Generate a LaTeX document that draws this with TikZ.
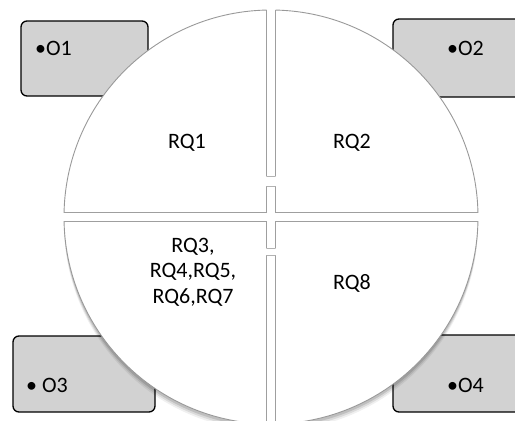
\documentclass[tikz,border=0pt]{standalone}
\usepackage{fontspec}
\setmainfont{Carlito}
\begin{document}
\begin{tikzpicture}[x=1pt,y=-1pt,line join=round,line cap=round,
	objbox/.style={draw=black,line width=1.3pt,fill=gray!35,rounded corners=6pt},
	objtxt/.style={anchor=west,inner sep=0pt,font=\fontsize{22}{26}\selectfont},
	rqtxt/.style={align=center,font=\fontsize{22}{25.5}\selectfont},
	gapline/.style={gray!75,line width=1pt}]
		\useasboundingbox (0,0) rectangle (515,421);
		% objectives, behind the disc
		\draw[objbox] (21,21) rectangle (148,96);
		\draw[objbox] (393,19) rectangle (530,97);
		\draw[objbox] (13,336) rectangle (155,412);
		\draw[objbox] (393,335) rectangle (530,412);
		\node[objtxt] (o1) at (35,48) {•O1};
		\node[objtxt] (o2) at (447,48) {•O2};
		\node[objtxt] (o3) at (26,385) {• O3};
		\node[objtxt] (o4) at (447,385) {•O4};
		% soft shadow under the disc
		\foreach \s/\o in {7/0.06,5/0.09,3/0.12}
		\fill[black,opacity=\o] (271,217+\s) circle (207pt);
		\fill[white] (271,217) circle (207pt);
		% four quarters
		\foreach \sx/\sy in {-1/-1,1/-1,-1/1,1/1}{
			\begin{scope}
				\clip (271+\sx*4.5,217+\sy*4.5) rectangle (271+\sx*240,217+\sy*240);
				\draw[gray!80,line width=0.9pt] (271,217) circle (207pt);
			\end{scope}}
		% edges of the gaps
		\begin{scope}
			\clip (271,217) circle (207pt);
			\draw[gapline] (266.5,0)--(266.5,212.5) (275.5,0)--(275.5,212.5);
			\draw[gapline] (266.5,221.5)--(266.5,430) (275.5,221.5)--(275.5,430);
			\draw[gapline] (0,212.5)--(266.5,212.5) (275.5,212.5)--(530,212.5);
			\draw[gapline] (0,221.5)--(266.5,221.5) (275.5,221.5)--(530,221.5);
			\fill[white] (265,176) rectangle (277,186);
			\fill[white] (265,248) rectangle (277,255);
			\draw[gray!60] (266.5,176)--(275.5,176) (266.5,186)--(275.5,186);
			\draw[gray!60] (266.5,248)--(275.5,248) (266.5,255)--(275.5,255);
		\end{scope}
		% research questions
		\node[rqtxt] (rq1) at (187,143) {RQ1};
		\node[rqtxt] (rq2) at (352,143) {RQ2};
		\node[rqtxt] (rq3) at (193,272) {RQ3,\\RQ4,RQ5,\\RQ6,RQ7};
		\node[rqtxt] (rq8) at (352,283) {RQ8};
\end{tikzpicture}
\end{document}
